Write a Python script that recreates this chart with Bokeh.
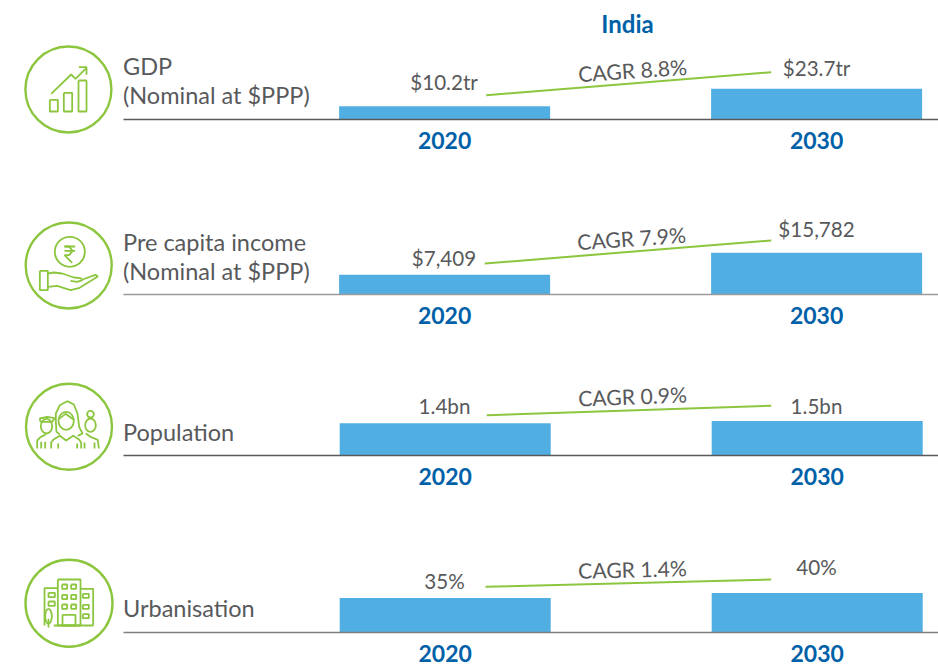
from bokeh.embed import file_html
from bokeh.layouts import column, row
from bokeh.models import FixedTicker, Label, Range1d
from bokeh.plotting import figure
from bokeh.resources import INLINE

# ---- data ----
years = [2020, 2030]
tick_labels = ["2020", "2030"]
metrics = ["GDP", "Per capita", "Population", "Urbanisation"]
gdp_values = [10.2, 23.7]
income_values = [7409, 15782]
population_values = [1.4, 1.5]
urbanisation_values = [35, 40]
gdp_labels = ["$10.2tr", "$23.7tr"]
income_labels = ["$7,409", "$15,782"]
population_labels = ["1.4bn", "1.5bn"]
urbanisation_labels = ["35%", "40%"]
cagr_labels = ["CAGR 8.8%", "CAGR 7.9%", "CAGR 0.9%", "CAGR 1.4%"]
row_titles = [["GDP", "(Nominal at $PPP)"], ["Pre capita income", "(Nominal at $PPP)"], ["Population"], ["Urbanisation"]]
heading = "India"

# ---- styling / layout ----
FONT = "Lato"
TEXT = "#58595b"
BLUE = "#0061a8"
BAR = "#51aee2"
GREEN = "#8cc63f"
TOTAL_W, TOTAL_H = 938, 665
LEFT = 123
PX_PER_YEAR = 37.2
BAR_W = 211 / PX_PER_YEAR

panels = [
    dict(values=gdp_values, labels=gdp_labels, base=119, h=152, px=1.3, shift=-0.4, rule="#5a5a5a", rule_w=1.5,
         titles=[65.5, 94.5], val_y=[81, 67.5], val_x=[443.5, 816], cagr=(632, 70), cagr_deg=3.9, conn=[(485.7, 94.7), (770.7, 71.7)]),
    dict(values=income_values, labels=income_labels, base=294, h=175, px=0.00265, shift=-0.4, rule="#9a9a9a", rule_w=1.5,
         titles=[241.5, 270.5], val_y=[257.5, 228], val_x=[443.5, 816], cagr=(631, 238), cagr_deg=4.1, conn=[(484.3, 263), (770.7, 240)]),
    dict(values=population_values, labels=population_labels, base=455, h=161, px=23, shift=0.2, rule="#5a5a5a", rule_w=1.5,
         titles=[431.5], val_y=[405.5, 405], val_x=[444, 816], cagr=(632, 396), cagr_deg=2.1, conn=[(486.3, 414.7), (770.7, 405.3)]),
    dict(values=urbanisation_values, labels=urbanisation_labels, base=632, h=177, px=0.985, shift=0.2, rule="#808080", rule_w=1.5,
         titles=[607.5], val_y=[580.5, 566], val_x=[444, 816], cagr=(632, 569), cagr_deg=1.4, conn=[(485, 586.3), (770.7, 579)]),
]

figs = []
for i, cfg in enumerate(panels):
    frame_h = cfg["base"] - (0 if i == 0 else panels[i - 1]["base"] + 33)
    x0 = 2020 - (444.5 + cfg["shift"] - LEFT) / PX_PER_YEAR
    x1 = 2030 + (TOTAL_W - 816.5 - cfg["shift"]) / PX_PER_YEAR
    p = figure(width=TOTAL_W - LEFT, height=cfg["h"], output_backend="svg", toolbar_location=None,
               x_range=Range1d(x0, x1), y_range=Range1d(0, frame_h / cfg["px"]),
               y_axis_location=None, min_border_left=0, min_border_right=0, min_border_top=0,
               min_border_bottom=33, outline_line_color=None, background_fill_color="white",
               border_fill_color="white")
    p.extra_x_ranges = {"px": Range1d(LEFT, TOTAL_W)}
    p.extra_y_ranges = {"px": Range1d(cfg["base"], cfg["base"] - frame_h)}
    p.grid.visible = False
    ax = p.xaxis[0]
    ax.ticker = FixedTicker(ticks=years)
    ax.major_label_overrides = dict(zip(years, tick_labels))
    ax.major_tick_line_color = None
    ax.minor_tick_line_color = None
    ax.axis_line_color = cfg["rule"]
    ax.axis_line_width = cfg["rule_w"]
    ax.major_label_standoff = 6
    ax.major_label_text_font = FONT
    ax.major_label_text_font_style = "bold"
    ax.major_label_text_font_size = "23px"
    ax.major_label_text_color = BLUE

    p.vbar(x=years, top=cfg["values"], bottom=0, width=BAR_W, fill_color=BAR, line_color=None)
    p.line(x=[c[0] for c in cfg["conn"]], y=[c[1] for c in cfg["conn"]], x_range_name="px", y_range_name="px",
           line_color=GREEN, line_width=2)

    def add_text(text, px, py, size=20.6, color=TEXT, align="center", angle=0.0, style="normal"):
        p.add_layout(Label(x=px - LEFT, y=cfg["base"] - py, x_units="screen", y_units="screen", text=text,
                           text_font=FONT, text_font_size=f"{size}px", text_color=color, text_align=align,
                           text_baseline="middle", angle=angle, angle_units="deg", text_font_style=style))

    for txt, ty in zip(row_titles[i], cfg["titles"]):
        add_text(txt, LEFT - 0.5, ty, size=23.5, align="left")
    for txt, vx, vy in zip(cfg["labels"], cfg["val_x"], cfg["val_y"]):
        add_text(txt, vx, vy)
    add_text(cagr_labels[i], cfg["cagr"][0], cfg["cagr"][1], size=21.2, angle=cfg["cagr_deg"])
    if i == 0:
        add_text(heading, 627, 22.5, size=24, color=BLUE, style="bold")
    figs.append(p)

# ---- pictograms, drawn in page pixels from the zoomed tracing ----
icons = figure(width=LEFT, height=TOTAL_H, output_backend="svg", toolbar_location=None,
               x_range=Range1d(0, LEFT), y_range=Range1d(TOTAL_H, 0), x_axis_location=None, y_axis_location=None,
               min_border=0, outline_line_color=None)
icons.grid.visible = False


def box(x1, y1, x2, y2):
    return [(x1, y1), (x2, y1), (x2, y2), (x1, y2), (x1, y1)]


def draw(paths, ox, oy, width=1.8):
    icons.multi_line(xs=[[ox + a / 3 for a, _ in path] for path in paths],
                     ys=[[oy + b / 3 for _, b in path] for path in paths],
                     line_color=GREEN, line_width=width)


def oval(cx, cy, rx, ry, ox, oy, width=1.8):
    icons.ellipse(x=[ox + cx / 3], y=[oy + cy / 3], width=2 * rx / 3, height=2 * ry / 3, fill_color=None,
                  line_color=GREEN, line_width=width)


for cx, cy, r in [(67.9, 89, 43), (68.2, 265, 43), (68.5, 426.3, 43), (68.5, 602.7, 43.5)]:
    icons.circle(x=[cx], y=[cy], radius=r, fill_color=None, line_color=GREEN, line_width=2.4)

draw([box(88, 178, 112, 213), box(130, 157, 155, 213), box(174, 120, 198, 213),
      [(92, 160), (152, 102), (165, 115), (198, 82)], [(175, 80), (198, 80), (198, 103)]], 20, 40)

oval(148, 103, 45, 45, 20, 217)
draw([[(132, 87), (164, 87)], [(132, 100), (164, 100)],
      [(132, 87), (146, 87), (156, 100), (146, 113), (132, 113), (155, 136)],
      box(58, 160, 82, 218),
      [(82, 168), (100, 165), (125, 168), (160, 180), (180, 182), (186, 188), (170, 193), (150, 190)],
      [(186, 186), (225, 172), (232, 177), (175, 212), (150, 218), (110, 205), (82, 208)]], 20, 217)

oval(137, 127, 23, 27, 20, 378)
oval(210, 107, 10, 10, 20, 378)
oval(210, 140, 16, 20, 20, 378)
oval(78, 143, 17, 22, 20, 378)
draw([[(118, 168), (108, 160), (106, 130), (106, 105), (118, 80), (140, 68), (160, 78), (171, 105), (176, 145), (186, 165), (172, 172)],
      [(115, 122), (135, 106), (160, 124)],
      [(92, 210), (92, 192), (100, 182), (118, 172), (137, 186), (158, 172), (175, 182), (182, 192), (182, 210)],
      [(113, 195), (113, 210)], [(170, 195), (170, 210)],
      [(60, 130), (58, 120), (80, 115), (102, 119), (95, 130), (60, 130)],
      [(50, 210), (50, 186), (60, 176), (76, 168)], [(62, 190), (62, 210)], [(74, 190), (74, 210)],
      [(196, 165), (212, 176), (232, 184), (235, 210)], [(222, 192), (222, 210)], [(192, 192), (192, 210)]], 20, 378)

windows = [box(x, y, x + 15, y + 13) for y in (87, 118, 147) for x in (125, 152)]
windows += [box(84, y, 103, y + 13) for y in (112, 138)]
windows += [box(187, y, 205, y + 12) for y in (115, 148, 176)]
draw([box(112, 72, 180, 210), [(72, 210), (72, 98), (112, 98)], [(180, 100), (218, 100), (218, 210)],
      box(126, 178, 165, 210), [(100, 210), (218, 210)], [(84, 190), (84, 216)]] + windows, 20, 555)
oval(84, 182, 10, 22, 20, 555)

page = row(icons, column(*figs, spacing=0), spacing=0)
open("out.html", "w").write(file_html(page, INLINE))
